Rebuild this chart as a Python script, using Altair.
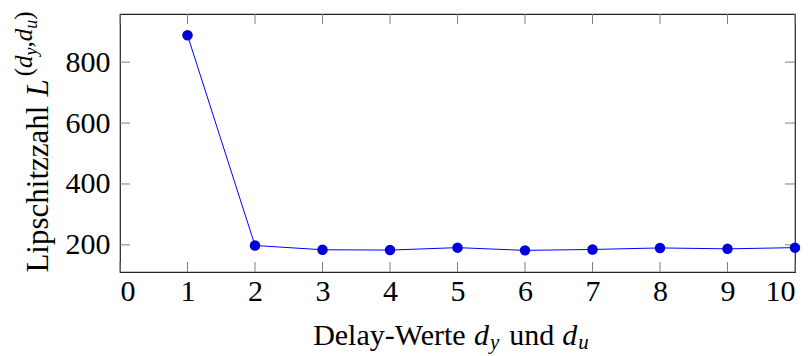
import altair as alt
import pandas as pd

# Lipschitz number for each delay setting
delays = [1, 2, 3, 4, 5, 6, 7, 8, 9, 10]
lipschitz = [888, 198, 184, 183, 191, 182, 185, 190, 187, 191]

x_ticks = [0, 1, 2, 3, 4, 5, 6, 7, 8, 9, 10]
y_ticks = [200, 400, 600, 800]

W, H = 675, 258
FONT = "'Liberation Serif', 'Times New Roman', 'DejaVu Serif', serif"
FS = 30          # tick labels and x title
FS_Y = 31        # y title
FS_SUB = 21      # subscripts in the x title
FS_SUP = 25      # superscript of the y title
FS_SUPSUB = 18   # subscripts inside that superscript

BLUE_LINE = "#0000ff"
BLUE_MARK = "#0000dd"
TICK_GREY = "#808080"

df = pd.DataFrame({"delay": delays, "L": lipschitz})
xs = alt.Scale(domain=[0, 10], nice=False, zero=False)
ys = alt.Scale(domain=[111, 958], nice=False, zero=False)

x_enc = alt.X(
    "delay:Q", scale=xs, title=None,
    axis=alt.Axis(values=x_ticks, format="d", grid=False, domain=False,
                  ticks=False, labelPadding=4, labelFont=FONT,
                  labelFontSize=FS, labelColor="black"),
)
y_enc = alt.Y(
    "L:Q", scale=ys, title=None,
    axis=alt.Axis(values=y_ticks, format="d", grid=False, domain=False,
                  ticks=False, labelPadding=10, labelFont=FONT,
                  labelFontSize=FS, labelColor="black"),
)

base = alt.Chart(df)
line = base.mark_line(color=BLUE_LINE, strokeWidth=1).encode(x=x_enc, y=y_enc)
dots = base.mark_circle(size=110, color=BLUE_MARK, opacity=1).encode(
    x="delay:Q", y="L:Q")

# inward-pointing tick marks on all four sides of the frame
TL = 10
xt = alt.Chart(pd.DataFrame({"t": x_ticks}))
yt = alt.Chart(pd.DataFrame({"t": y_ticks}))
tick_style = dict(color=TICK_GREY, strokeWidth=1)
ticks = [
    xt.mark_rule(**tick_style).encode(x=alt.X("t:Q", scale=xs),
                                      y=alt.value(H), y2=alt.value(H - TL)),
    xt.mark_rule(**tick_style).encode(x=alt.X("t:Q", scale=xs),
                                      y=alt.value(0), y2=alt.value(TL)),
    yt.mark_rule(**tick_style).encode(y=alt.Y("t:Q", scale=ys),
                                      x=alt.value(0), x2=alt.value(TL)),
    yt.mark_rule(**tick_style).encode(y=alt.Y("t:Q", scale=ys),
                                      x=alt.value(W), x2=alt.value(W - TL)),
]

# approximate advance widths (em) of the serif font, used to set the
# math fragments of the axis titles one after another
ADV = {"D": .722, "e": .444, "l": .278, "a": .444, "y": .5, "-": .333,
       "W": .944, "r": .333, "t": .278, "u": .5, "n": .5, "d": .5,
       "L": .611, "i": .278, "p": .5, "s": .389, "c": .444, "h": .5,
       "z": .444, "(": .333, ")": .333, ",": .25}
ADV_IT = {"d": .5, "y": .444, "u": .5, "L": .556}


def width(text, size, italic):
    table = ADV_IT if italic else ADV
    return sum(table.get(c, ADV.get(c, .5)) for c in text) * size


def typeset(segments, anchor, baseline, vertical=False):
    """Lay fragments (text, size, italic, raise, gap after) on a baseline."""
    total = sum(width(t, s, it) + g for t, s, it, _, g in segments)
    pos = anchor + total / 2 if vertical else anchor - total / 2
    layers = []
    for text, size, italic, rise, gap in segments:
        w = width(text, size, italic) + gap
        if vertical:
            enc = dict(x=alt.value(baseline - rise), y=alt.value(pos))
            pos -= w
        else:
            enc = dict(x=alt.value(pos), y=alt.value(baseline - rise))
            pos += w
        layers.append(
            alt.Chart(pd.DataFrame({"s": [text]})).mark_text(
                font=FONT, fontSize=size, align="left",
                baseline="alphabetic", color="black",
                fontStyle="italic" if italic else "normal",
                angle=270 if vertical else 0,
            ).encode(text="s:N", **enc)
        )
    return layers


x_title = typeset(
    [("Delay-Werte", FS, False, 0, 6), ("d", FS, True, 0, 1),
     ("y", FS_SUB, True, -4, 10), ("und", FS, False, 0, 8),
     ("d", FS, True, 0, 1), ("u", FS_SUB, True, -4, 0)],
    anchor=331, baseline=331,
)
y_title = typeset(
    [("Lipschitzzahl", FS_Y, False, 0, 9), ("L", FS_Y, True, 0, 3),
     ("(", FS_SUP, False, 16, 0), ("d", FS_SUP, True, 16, 0),
     ("y", FS_SUPSUB, True, 11, 0), (",", FS_SUP, False, 16, 0),
     ("d", FS_SUP, True, 16, 0), ("u", FS_SUPSUB, True, 11, 0),
     (")", FS_SUP, False, 16, 0)],
    anchor=128, baseline=-72, vertical=True,
)

chart = alt.layer(line, *ticks, dots, *x_title, *y_title).properties(
    width=W, height=H,
    autosize=alt.AutoSizeParams(type="none"),
    padding={"left": 120, "top": 14, "right": 16, "bottom": 84},
).configure_view(stroke="#222222", strokeWidth=1.2)

chart.save("out.html", embed_options={"renderer": "svg", "actions": False})
